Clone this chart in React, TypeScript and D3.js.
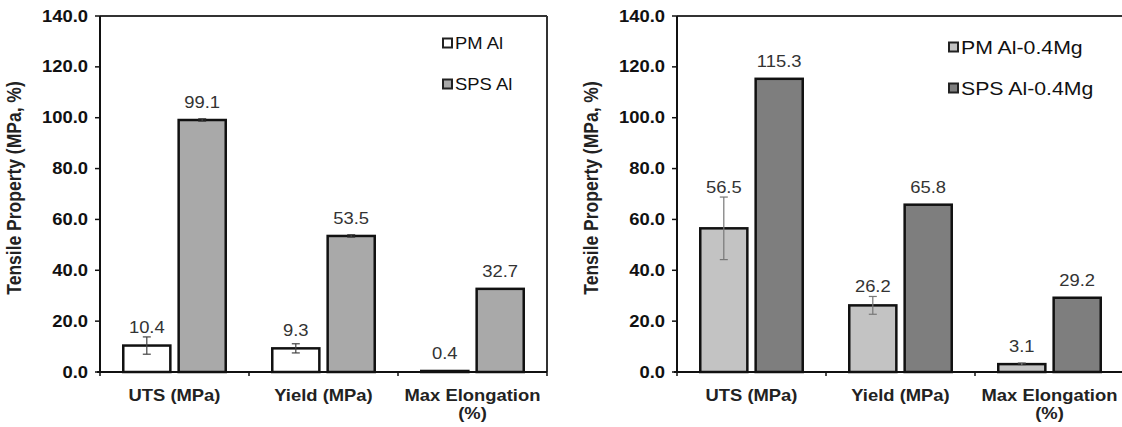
import * as d3 from "d3";

// categories and series
const categories = ["UTS (MPa)", "Yield (MPa)", "Max Elongation (%)"];
const categoryLines = [["UTS (MPa)"], ["Yield (MPa)"], ["Max Elongation", "(%)"]];

const alNames = ["PM Al", "SPS Al"];
const alPM = [10.4, 9.3, 0.4];
const alPMErr = [3.4, 1.8, 0];
const alSPS = [99.1, 53.5, 32.7];
const alSPSErr = [0.5, 0.5, 0];

const mgNames = ["PM Al-0.4Mg", "SPS Al-0.4Mg"];
const mgPM = [56.5, 26.2, 3.1];
const mgPMErr = [12.3, 3.5, 0.5];
const mgSPS = [115.3, 65.8, 29.2];
const mgSPSErr = [0, 0, 0];

const yMax = 140;
const yLabel = "Tensile Property (MPa, %)";

const W = 1122;
const H = 427;
const FONT = "'Liberation Sans', Arial, sans-serif";
const SX = 1.15; // the source picture is stretched sideways

function HText({ x, y, anchor = "middle", size, weight = "normal", fill = "#222", children }: any) {
  return (
    <text
      transform={`translate(${x},${y}) scale(${SX},1)`}
      textAnchor={anchor}
      fontSize={size}
      fontWeight={weight}
      fill={fill}
      fontFamily={FONT}
    >
      {children}
    </text>
  );
}

function Panel({ left, right, names, values, errors, fills, errColor, legendX, legendY, legendSize, labelX }: any) {
  const top = 16;
  const bottom = 372;
  const y = d3.scaleLinear().domain([0, yMax]).range([bottom, top]);
  const x0 = d3.scaleBand().domain(categories).range([left, right]).padding(0);
  const x1 = d3
    .scaleBand()
    .domain(names)
    .range([0, x0.bandwidth()])
    .paddingInner(0.15)
    .paddingOuter(0.42);
  const ticks = y.ticks(7);
  const fmt = d3.format(".1f");

  return (
    <g>
      {/* frame top / right */}
      <line x1={left} x2={right} y1={top} y2={top} stroke="#333" strokeWidth={2} />
      <line x1={right} x2={right} y1={top} y2={bottom} stroke="#333" strokeWidth={2} />

      {/* y axis */}
      <line x1={left} x2={left} y1={top} y2={bottom} stroke="#111" strokeWidth={2} />
      {ticks.map((t) => (
        <g key={t}>
          <line x1={left - 5} x2={left} y1={y(t)} y2={y(t)} stroke="#111" strokeWidth={1.5} />
          <HText x={left - 12} y={y(t) + 5.5} anchor="end" size={16} weight="bold" fill="#111">
            {fmt(t)}
          </HText>
        </g>
      ))}
      <text
        transform={`translate(${labelX},188) scale(${SX},1) rotate(-90)`}
        textAnchor="middle"
        fontSize={17.5}
        fontWeight="bold"
        fill="#222"
        fontFamily={FONT}
      >
        {yLabel}
      </text>

      {/* bars */}
      {categories.map((c, ci) => (
        <g key={c} transform={`translate(${x0(c)},0)`}>
          {names.map((n: string, si: number) => {
            const v = values[si][ci];
            const e = errors[si][ci];
            const bx = x1(n)!;
            const bw = x1.bandwidth();
            const cx = bx + bw / 2;
            const labelY = Math.min(y(v) - 12, y(v + e) - 4);
            return (
              <g key={n}>
                <rect
                  x={bx}
                  y={y(v)}
                  width={bw}
                  height={bottom - y(v)}
                  fill={fills[si]}
                  stroke="#111"
                  strokeWidth={2.5}
                />
                {e > 0 && (
                  <g stroke={errColor} strokeWidth={1.2}>
                    <line x1={cx} x2={cx} y1={y(v + e)} y2={y(v - e)} />
                    <line x1={cx - 4} x2={cx + 4} y1={y(v + e)} y2={y(v + e)} />
                    <line x1={cx - 4} x2={cx + 4} y1={y(v - e)} y2={y(v - e)} />
                  </g>
                )}
                <HText x={cx} y={labelY} size={16} fill="#333">
                  {fmt(v)}
                </HText>
              </g>
            );
          })}
        </g>
      ))}

      {/* x axis */}
      <line x1={left - 3} x2={right} y1={bottom} y2={bottom} stroke="#111" strokeWidth={2} />
      {categories.map((c, ci) => (
        <g key={c}>
          <line x1={x0(c)!} x2={x0(c)!} y1={bottom} y2={bottom + 4} stroke="#111" strokeWidth={1.5} />
          {categoryLines[ci].map((l, li) => (
            <HText key={l} x={x0(c)! + x0.bandwidth() / 2} y={401 + li * 18} size={16} weight="bold" fill="#222">
              {l}
            </HText>
          ))}
        </g>
      ))}
      <line x1={right} x2={right} y1={bottom} y2={bottom + 4} stroke="#111" strokeWidth={1.5} />

      {/* legend */}
      {names.map((n: string, i: number) => (
        <g key={n}>
          <rect
            x={legendX}
            y={legendY[i] - 4.5}
            width={9}
            height={9}
            fill={fills[i]}
            stroke="#222"
            strokeWidth={2}
          />
          <HText x={legendX + 12} y={legendY[i] + legendSize * 0.36} anchor="start" size={legendSize} fill="#111">
            {n}
          </HText>
        </g>
      ))}
    </g>
  );
}

export default function App() {
  return (
    <svg width={W} height={H} style={{ position: "absolute", left: 0, top: 0, background: "#fff" }}>
      <rect width={W} height={H} fill="#fff" />
      <Panel
        left={100}
        right={547}
        names={alNames}
        values={[alPM, alSPS]}
        errors={[alPMErr, alSPSErr]}
        fills={["#ffffff", "#a9a9a9"]}
        errColor="#444"
        legendX={443}
        legendY={[43, 84]}
        legendSize={16}
        labelX={21}
      />
      <Panel
        left={677}
        right={1124}
        names={mgNames}
        values={[mgPM, mgSPS]}
        errors={[mgPMErr, mgSPSErr]}
        fills={["#c3c3c3", "#7e7e7e"]}
        errColor="#777"
        legendX={949}
        legendY={[47, 88]}
        legendSize={18.5}
        labelX={598}
      />
    </svg>
  );
}
